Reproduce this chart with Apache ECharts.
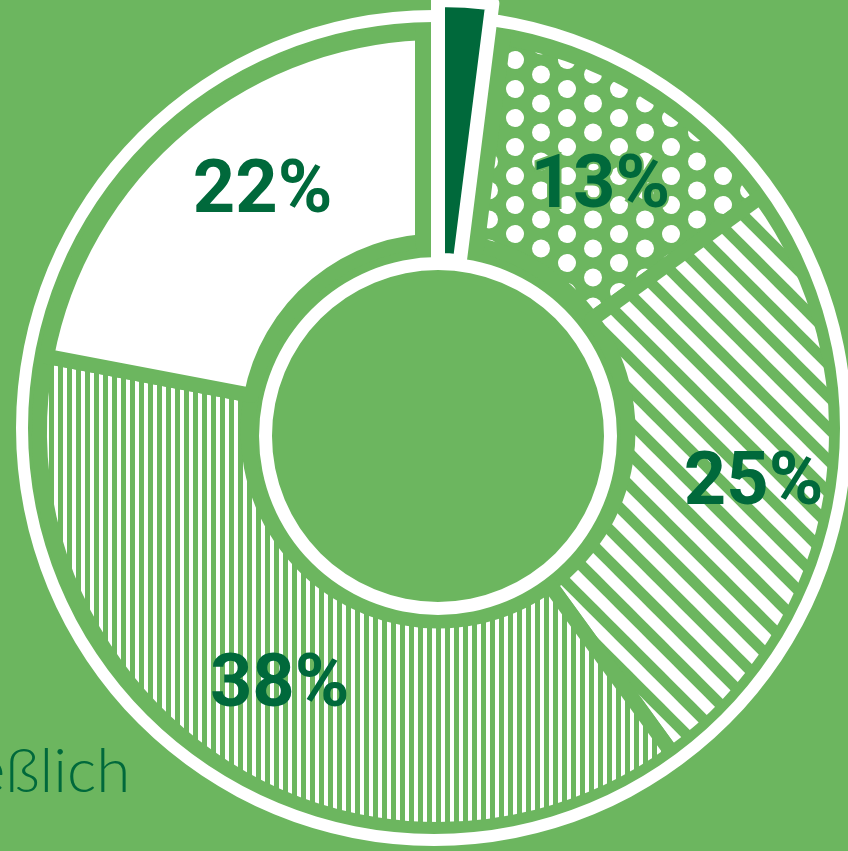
<!DOCTYPE html>
<html>
<head>
<meta charset="utf-8">
<script src="https://cdn.jsdelivr.net/npm/echarts@6/dist/echarts.min.js"></script>
<style>
  html, body { margin: 0; padding: 0; background: #6cb65f; overflow: hidden; }
  #chart { width: 848px; height: 851px; }
</style>
</head>
<body>
<div id="chart"></div>
<script>
// Anteile im Uhrzeigersinn ab 12 Uhr
const shareNames = ["dunkel", "punkte", "schraeg", "senkrecht", "weiss"];
const shareValues = [2, 13, 25, 38, 22];
const shareLabels = ["", "13%", "25%", "38%", "22%"];
const footText = "eßlich";

const GREEN = "#6cb65f";
const DARK = "#00693b";
const WHITE = "#ffffff";

// Muster-Kacheln fuer die Segmente
const makeTile = (w, h, draw) => {
  const c = document.createElement("canvas");
  c.width = w;
  c.height = h;
  const ctx = c.getContext("2d");
  ctx.fillStyle = GREEN;
  ctx.fillRect(0, 0, w, h);
  ctx.fillStyle = WHITE;
  ctx.strokeStyle = WHITE;
  draw(ctx, w, h);
  return { image: c, repeat: "repeat" };
};

const dots = makeTile(52, 29, (ctx, w, h) => {
  [[47, 2], [21, 16.5]].forEach(([x, y]) => {
    for (let i = -1; i <= 1; i++) {
      for (let j = -1; j <= 1; j++) {
        ctx.beginPath();
        ctx.arc(x + i * w, y + j * h, 9, 0, Math.PI * 2);
        ctx.fill();
      }
    }
  });
});

const diagonal = makeTile(32, 32, (ctx, w) => {
  ctx.lineWidth = 11.5;
  for (let k = -2; k <= 2; k++) {
    ctx.beginPath();
    ctx.moveTo(k * w - w, -w);
    ctx.lineTo(k * w + 2 * w, 2 * w);
    ctx.stroke();
  }
});

const vertical = makeTile(9, 9, (ctx) => {
  ctx.fillRect(0, 0, 4, 9);
});

const fills = [GREEN, dots, diagonal, vertical, WHITE];
const labelOffsets = [[0, 0], [11, 13], [22, 8], [1, 6], [14, -8]];

const total = shareValues.reduce((a, b) => a + b, 0);
const center = [438, 431];

const chart = echarts.init(document.getElementById("chart"), null, { renderer: "canvas" });

const option = {
  backgroundColor: GREEN,
  animation: false,
  graphic: [
    {
      type: "text",
      x: -27,
      y: 741,
      z: 10,
      style: { text: footText, fill: DARK, font: "300 62px Lato", verticalAlign: "top" }
    }
  ],
  series: [
    {
      type: "pie",
      z: 1,
      center,
      radius: [190, 398.5],
      startAngle: 90,
      silent: true,
      avoidLabelOverlap: false,
      itemStyle: { borderColor: GREEN, borderWidth: 15 },
      label: {
        show: true,
        position: "inside",
        color: DARK,
        fontFamily: "Roboto",
        fontWeight: "bold",
        fontSize: 74,
        formatter: (p) => shareLabels[p.dataIndex]
      },
      labelLine: { show: false },
      data: shareValues.map((v, i) => ({
        name: shareNames[i],
        value: v,
        itemStyle: { color: fills[i] },
        label: {
          offset: labelOffsets[i],
          textBorderColor: i === 1 ? GREEN : "transparent",
          textBorderWidth: i === 1 ? 4 : 0
        }
      }))
    },
    {
      // gruene Freistellung um das dunkle Segment
      type: "pie",
      z: 2,
      center,
      radius: [190, 398.5],
      startAngle: 90,
      silent: true,
      label: { show: false },
      labelLine: { show: false },
      data: [
        { value: shareValues[0], itemStyle: { color: GREEN, borderColor: GREEN, borderWidth: 46 } },
        { value: total - shareValues[0], itemStyle: { color: "transparent", borderWidth: 0 } }
      ]
    },
    {
      // innerer Ring
      type: "pie",
      z: 3,
      center: [438, 436],
      radius: [166, 179],
      silent: true,
      label: { show: false },
      labelLine: { show: false },
      data: [{ value: 1, itemStyle: { color: WHITE } }]
    },
    {
      // aeusserer Ring
      type: "pie",
      z: 3,
      center: [434, 428],
      radius: [406, 418],
      silent: true,
      label: { show: false },
      labelLine: { show: false },
      data: [{ value: 1, itemStyle: { color: WHITE } }]
    },
    {
      // dunkles Segment mit weissem Rand
      type: "pie",
      z: 4,
      center: [438, 434],
      radius: [174, 434],
      startAngle: 90,
      silent: true,
      label: { show: false },
      labelLine: { show: false },
      data: [
        { value: shareValues[0], itemStyle: { color: DARK, borderColor: WHITE, borderWidth: 14 } },
        { value: total - shareValues[0], itemStyle: { color: "transparent", borderWidth: 0 } }
      ]
    }
  ]
};

chart.setOption(option);
</script>
</body>
</html>
